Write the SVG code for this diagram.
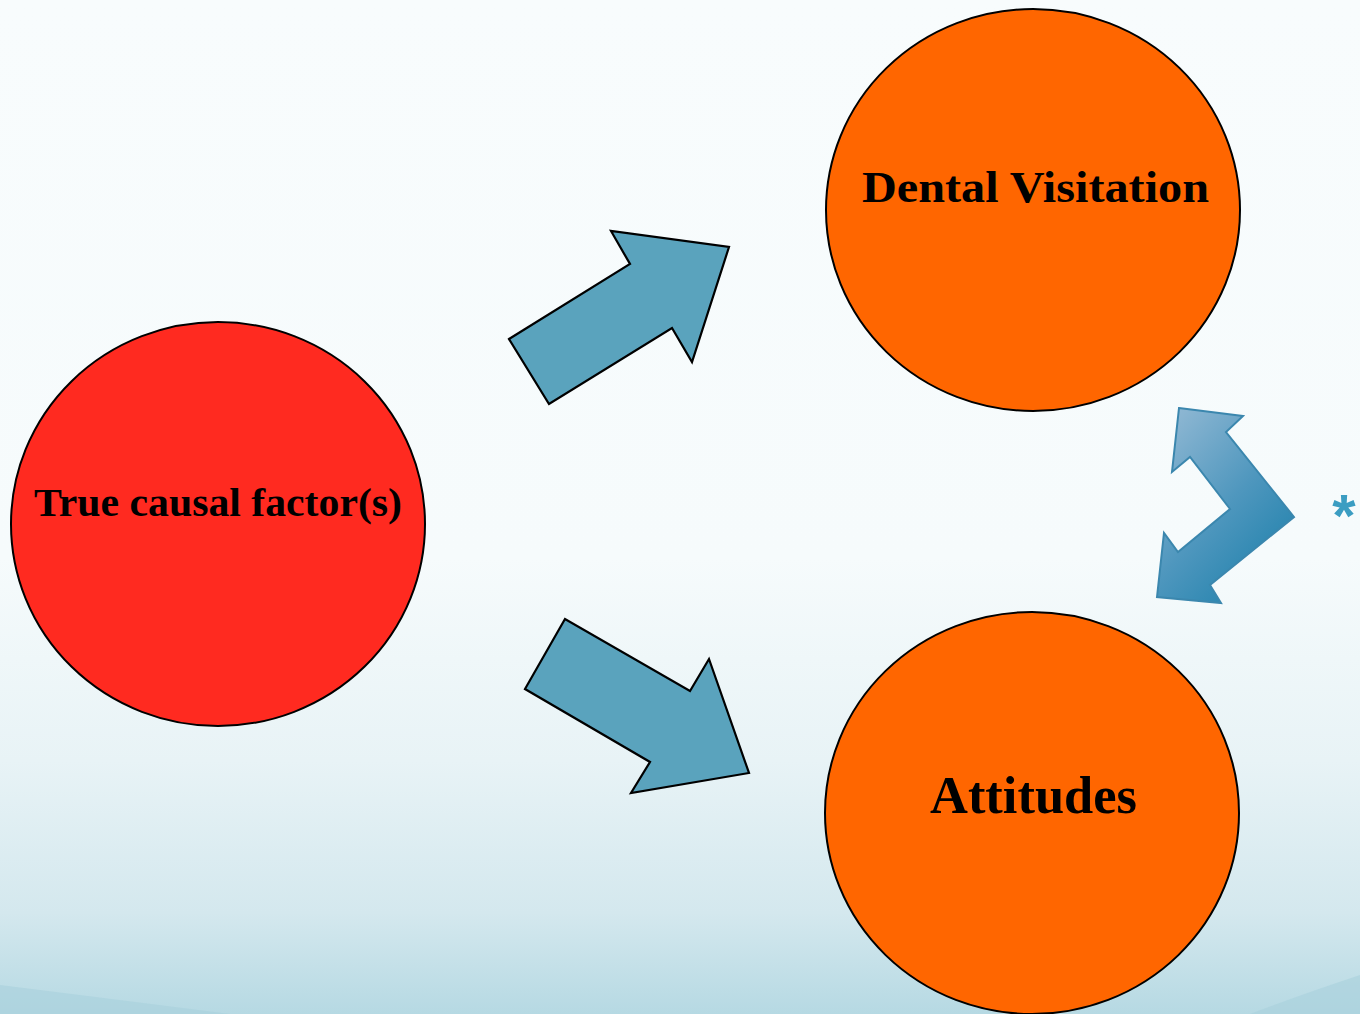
<svg xmlns="http://www.w3.org/2000/svg" width="1360" height="1014" viewBox="0 0 1360 1014">
  <style>
    .node-circle { stroke: #000; stroke-width: 2; }
    .label { font-family: "Liberation Serif", "DejaVu Serif", serif; font-weight: bold; fill: #000; text-anchor: start; }
    .flow-arrow { fill: #5aa3bd; stroke: #000; stroke-width: 2.2; stroke-linejoin: miter; }
    .bend-arrow { fill: url(#bendFill); stroke: #3b87ae; stroke-width: 2; stroke-linejoin: miter; }
  </style>
  <defs>
    <linearGradient id="bg" x1="0" y1="0" x2="0" y2="1">
      <stop offset="0" stop-color="#f8fcfd"/>
      <stop offset="0.55" stop-color="#f6fbfc"/>
      <stop offset="0.75" stop-color="#e8f3f6"/>
      <stop offset="0.9" stop-color="#d4e8ee"/>
      <stop offset="1" stop-color="#b6d9e3"/>
    </linearGradient>
    <linearGradient id="bendFill" gradientUnits="userSpaceOnUse" x1="1160" y1="420" x2="1290" y2="540">
      <stop offset="0" stop-color="#92b9d4"/>
      <stop offset="0.6" stop-color="#4f97be"/>
      <stop offset="1" stop-color="#2a86b0"/>
    </linearGradient>
  </defs>

  <!-- backdrop -->
  <rect x="0" y="0" width="1360" height="1014" fill="url(#bg)"/>
  <path d="M0,985 Q120,1000 230,1014 L0,1014 Z" fill="#a9d0dc" opacity="0.6"/>
  <path d="M1360,975 Q1300,995 1250,1014 L1360,1014 Z" fill="#a9d0dc" opacity="0.6"/>

  <!-- connectors -->
  <g id="connectors">
    <polygon id="arrow-to-visitation" class="flow-arrow" points="509,339 630,264 611,231 729,247 692,362 672,328 549,404"/>
    <polygon id="arrow-to-attitudes" class="flow-arrow" points="525,689 565,619 690,691 709,659 749,773 631,793 650,762"/>
    <polygon id="arrow-bidirectional" class="bend-arrow" points="1179,408 1243,416 1226,432 1294,517 1210,585 1221,603 1157,597 1164,533 1178,552 1230,509 1190,457 1172,472"/>
  </g>

  <!-- nodes -->
  <g id="node-true-causal">
    <ellipse class="node-circle" cx="218" cy="524" rx="207" ry="202" fill="#ff2a20"/>
    <text class="label" x="34" y="516" font-size="40" textLength="368" lengthAdjust="spacingAndGlyphs">True causal factor(s)</text>
  </g>

  <g id="node-dental-visitation">
    <ellipse class="node-circle" cx="1033" cy="210" rx="207" ry="201" fill="#ff6600"/>
    <text class="label" x="862" y="202" font-size="44" textLength="347" lengthAdjust="spacingAndGlyphs">Dental Visitation</text>
  </g>

  <g id="node-attitudes">
    <ellipse class="node-circle" cx="1032" cy="813" rx="207" ry="201" fill="#ff6600"/>
    <text class="label" x="930" y="813" font-size="52" textLength="207" lengthAdjust="spacingAndGlyphs">Attitudes</text>
  </g>

  <!-- footnote marker -->
  <text x="1344" y="536" font-family="Liberation Sans, DejaVu Sans, sans-serif" font-size="60" font-weight="bold" fill="#3b9dc2" text-anchor="middle">*</text>
</svg>
